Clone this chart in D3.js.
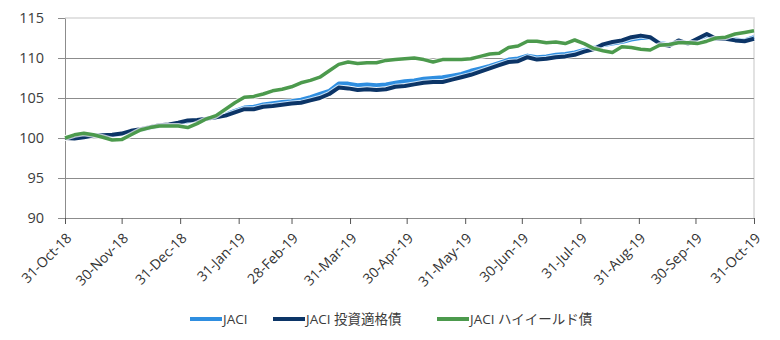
<!DOCTYPE html>
<html>
<head>
<meta charset="utf-8">
<script src="https://cdn.jsdelivr.net/npm/d3@7"></script>
<style>
  html, body { margin: 0; padding: 0; background: #ffffff; }
  svg { display: block; font-family: "Open Sans", "Noto Sans CJK JP", sans-serif; }
</style>
</head>
<body>
<svg id="chart" width="780" height="340"></svg>
<script>
// Observation dates (every 5 days, 31-Oct-18 to 31-Oct-19)
const dates = [
  "2018-10-31","2018-11-05","2018-11-10","2018-11-15","2018-11-20","2018-11-25","2018-11-30",
  "2018-12-05","2018-12-10","2018-12-15","2018-12-20","2018-12-25","2018-12-30",
  "2019-01-04","2019-01-09","2019-01-14","2019-01-19","2019-01-24","2019-01-29",
  "2019-02-03","2019-02-08","2019-02-13","2019-02-18","2019-02-23","2019-02-28",
  "2019-03-05","2019-03-10","2019-03-15","2019-03-20","2019-03-25","2019-03-30",
  "2019-04-04","2019-04-09","2019-04-14","2019-04-19","2019-04-24","2019-04-29",
  "2019-05-04","2019-05-09","2019-05-14","2019-05-19","2019-05-24","2019-05-29",
  "2019-06-03","2019-06-08","2019-06-13","2019-06-18","2019-06-23","2019-06-28",
  "2019-07-03","2019-07-08","2019-07-13","2019-07-18","2019-07-23","2019-07-28",
  "2019-08-02","2019-08-07","2019-08-12","2019-08-17","2019-08-22","2019-08-27",
  "2019-09-01","2019-09-06","2019-09-11","2019-09-16","2019-09-21","2019-09-26",
  "2019-10-01","2019-10-06","2019-10-11","2019-10-16","2019-10-21","2019-10-26","2019-10-31"
];

// JACI (composite)
const jaci = [
  100.0,100.0,100.15,100.3,100.3,100.35,100.5,
  100.8,101.0,101.25,101.5,101.6,101.8,
  102.1,102.2,102.4,102.6,102.95,103.4,
  103.8,103.9,104.2,104.35,104.5,104.6,
  104.8,105.1,105.5,105.9,106.8,106.8,
  106.6,106.7,106.6,106.7,106.9,107.1,
  107.2,107.4,107.5,107.6,107.8,108.0,
  108.4,108.7,109.0,109.4,109.8,109.95,
  110.3,110.1,110.2,110.4,110.5,110.7,
  111.0,111.3,111.6,111.8,112.0,112.3,
  112.5,112.5,111.9,111.7,112.1,111.9,
  112.3,112.8,112.4,112.4,112.3,112.2,112.6
];

// JACI investment grade
const jaciIG = [
  100.0,99.95,100.1,100.3,100.35,100.4,100.55,
  100.9,101.1,101.35,101.6,101.7,101.9,
  102.2,102.25,102.4,102.6,102.8,103.2,
  103.6,103.6,103.9,104.0,104.15,104.3,
  104.4,104.7,105.0,105.5,106.3,106.2,
  106.0,106.1,106.0,106.1,106.4,106.5,
  106.7,106.9,107.0,107.0,107.3,107.6,
  107.9,108.3,108.7,109.1,109.5,109.6,
  110.1,109.8,109.9,110.1,110.2,110.4,
  110.8,111.1,111.7,112.0,112.2,112.6,
  112.8,112.6,111.8,111.5,112.2,111.8,
  112.4,113.0,112.4,112.4,112.2,112.1,112.4
];

// JACI high yield
const jaciHY = [
  100.0,100.4,100.6,100.4,100.1,99.75,99.8,
  100.4,101.0,101.3,101.5,101.5,101.5,
  101.3,101.8,102.4,102.8,103.6,104.4,
  105.1,105.2,105.5,105.9,106.1,106.4,
  106.9,107.2,107.6,108.4,109.2,109.5,
  109.3,109.4,109.4,109.7,109.8,109.9,
  110.0,109.8,109.5,109.8,109.8,109.8,
  109.9,110.2,110.5,110.6,111.3,111.5,
  112.1,112.1,111.9,112.0,111.8,112.25,
  111.8,111.2,110.9,110.7,111.4,111.3,
  111.1,111.0,111.6,111.7,111.9,111.9,
  111.8,112.1,112.5,112.6,113.0,113.2,113.4
];

// Axis tick positions and labels
const xTickDates = [
  "2018-10-31","2018-11-30","2018-12-31","2019-01-31","2019-02-28","2019-03-31",
  "2019-04-30","2019-05-31","2019-06-30","2019-07-31","2019-08-31","2019-09-30","2019-10-31"
];
const yTicks = [90, 95, 100, 105, 110, 115];

const seriesNames = ["JACI", "JACI 投資適格債", "JACI ハイイールド債"];
const seriesColors = ["#2f8ee0", "#0c3567", "#4c9a4d"];

const parse = d3.utcParse("%Y-%m-%d");
const fmt = d3.utcFormat("%-d-%b-%y");

const margin = { left: 65, right: 26, top: 18, bottom: 122 };
const width = 780, height = 340;
const svg = d3.select("#chart");

const x = d3.scaleUtc()
  .domain([parse(dates[0]), parse(dates[dates.length - 1])])
  .range([margin.left, width - margin.right]);
const y = d3.scaleLinear()
  .domain([90, 115])
  .range([height - margin.bottom, margin.top]);

// Plot-area frame (top and right edges)
svg.append("path")
  .attr("d", `M${x.range()[0]},${y(115)}H${x.range()[1]}V${y(90)}`)
  .attr("fill", "none")
  .attr("stroke", "#d9d9d9")
  .attr("stroke-width", 1.5);

// Horizontal gridlines
svg.append("g")
  .selectAll("line")
  .data(yTicks.filter(v => v > 90 && v < 115))
  .join("line")
  .attr("x1", x.range()[0]).attr("x2", x.range()[1])
  .attr("y1", d => Math.round(y(d)) + 0.5).attr("y2", d => Math.round(y(d)) + 0.5)
  .attr("stroke", "#8c8c8c")
  .attr("stroke-width", 1);

// Y axis
const yAxis = svg.append("g")
  .attr("transform", `translate(${margin.left},0)`)
  .call(d3.axisLeft(y).tickValues(yTicks).tickSize(7).tickPadding(14).tickSizeOuter(0));
yAxis.select(".domain").attr("stroke", "#8c8c8c");
yAxis.selectAll(".tick line").attr("stroke", "#8c8c8c");
yAxis.selectAll("text")
  .attr("fill", "#3b3b3b")
  .style("font-size", "14.5px")
  .style("font-family", "'Open Sans', sans-serif");

// X axis
const xAxis = svg.append("g")
  .attr("transform", `translate(0,${y(90)})`)
  .call(d3.axisBottom(x).tickValues(xTickDates.map(parse)).tickFormat(fmt).tickSize(6).tickSizeOuter(0));
xAxis.select(".domain").attr("stroke", "#8c8c8c");
xAxis.selectAll(".tick line").attr("stroke", "#555555");
xAxis.selectAll("text")
  .attr("fill", "#333333")
  .style("font-size", "14px")
  .style("font-family", "'Open Sans', sans-serif")
  .attr("text-anchor", "end")
  .attr("dy", null)
  .attr("y", 0)
  .attr("transform", "translate(7,21) rotate(-45)");

// Series lines
const seriesValues = [jaci, jaciIG, jaciHY];
const line = d3.line()
  .x((d, i) => x(parse(dates[i])))
  .y(d => y(d))
  .curve(d3.curveLinear);

seriesValues.forEach((vals, k) => {
  svg.append("path")
    .datum(vals)
    .attr("fill", "none")
    .attr("stroke", "#ffffff")
    .attr("stroke-opacity", 0.7)
    .attr("stroke-width", 6)
    .attr("stroke-linejoin", "round")
    .attr("d", line);
  svg.append("path")
    .datum(vals)
    .attr("fill", "none")
    .attr("stroke", seriesColors[k])
    .attr("stroke-width", k === 2 ? 3.5 : 4)
    .attr("stroke-linejoin", "round")
    .attr("d", line);
});

// Legend
const legendX = [190, 273, 437];
const legend = svg.append("g").attr("transform", "translate(0,319)");
seriesNames.forEach((name, k) => {
  legend.append("line")
    .attr("x1", legendX[k]).attr("x2", legendX[k] + 32)
    .attr("y1", 0).attr("y2", 0)
    .attr("stroke", seriesColors[k])
    .attr("stroke-width", 4);
  legend.append("text")
    .attr("x", legendX[k] + 33)
    .attr("y", 5)
    .attr("fill", "#3b3b3b")
    .style("font-size", "13.5px")
    .text(name);
});
</script>
</body>
</html>
